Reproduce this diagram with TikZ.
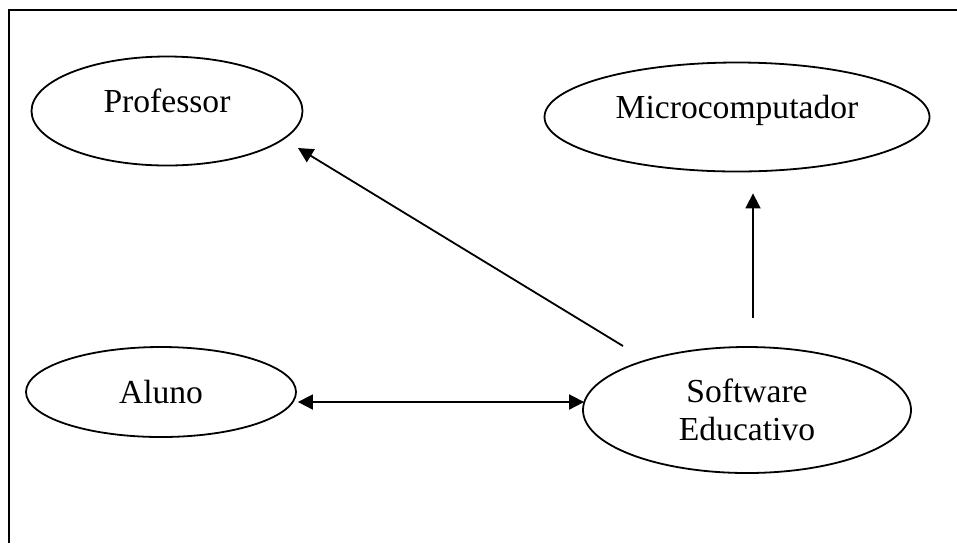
\documentclass[tikz,border=0pt]{standalone}
\usepackage{fontspec}
\setmainfont{Liberation Serif}
\usetikzlibrary{arrows.meta,positioning,calc,shapes.geometric}

\begin{document}
\begin{tikzpicture}[x=0.5pt, y=-0.5pt, font=\fontsize{16.8}{19}\selectfont,
  elipse/.style={draw, ellipse, line width=0.9pt, inner sep=0pt, align=center},
  textoalto/.style={text height=11pt, text depth=10pt},
  seta/.style={line width=0.9pt, -{Triangle[length=7.5pt, width=7.5pt]}},
  setadupla/.style={line width=0.9pt, {Triangle[length=7.5pt, width=7.5pt]}-{Triangle[length=7.5pt, width=7.5pt]}}]
\useasboundingbox (0,0) rectangle (957,543);
\draw[line width=1pt] (9,543) -- (9,10) -- (957,10);
\node[elipse, textoalto, minimum width=135.5pt, minimum height=54.5pt] (prof) at (167,111) {Professor};
\node[elipse, textoalto, minimum width=192.5pt, minimum height=54.5pt] (micro) at (737,117) {Microcomputador};
\node[elipse, minimum width=135pt, minimum height=45pt] (aluno) at (161,392) {Aluno};
\node[elipse, minimum width=164pt, minimum height=63pt] (soft) at (747,410) {Software\\Educativo};
\coordinate (soft-sai) at ($(soft.center)+(-124,-64)$);
\coordinate (prof-ponta) at ($(prof.center)+(131,37)$);
\coordinate (soft-sobe) at ($(soft.north)+(6,-28)$);
\coordinate (micro-ponta) at ($(micro.south)+(16,21)$);
\draw[seta] (soft-sai) -- (prof-ponta);
\draw[seta] (soft-sobe) -- (micro-ponta);
\draw[setadupla] ($(aluno.east)+(1,10)$) -- ($(soft.west)+(2,-8)$);
\end{tikzpicture}
\end{document}
